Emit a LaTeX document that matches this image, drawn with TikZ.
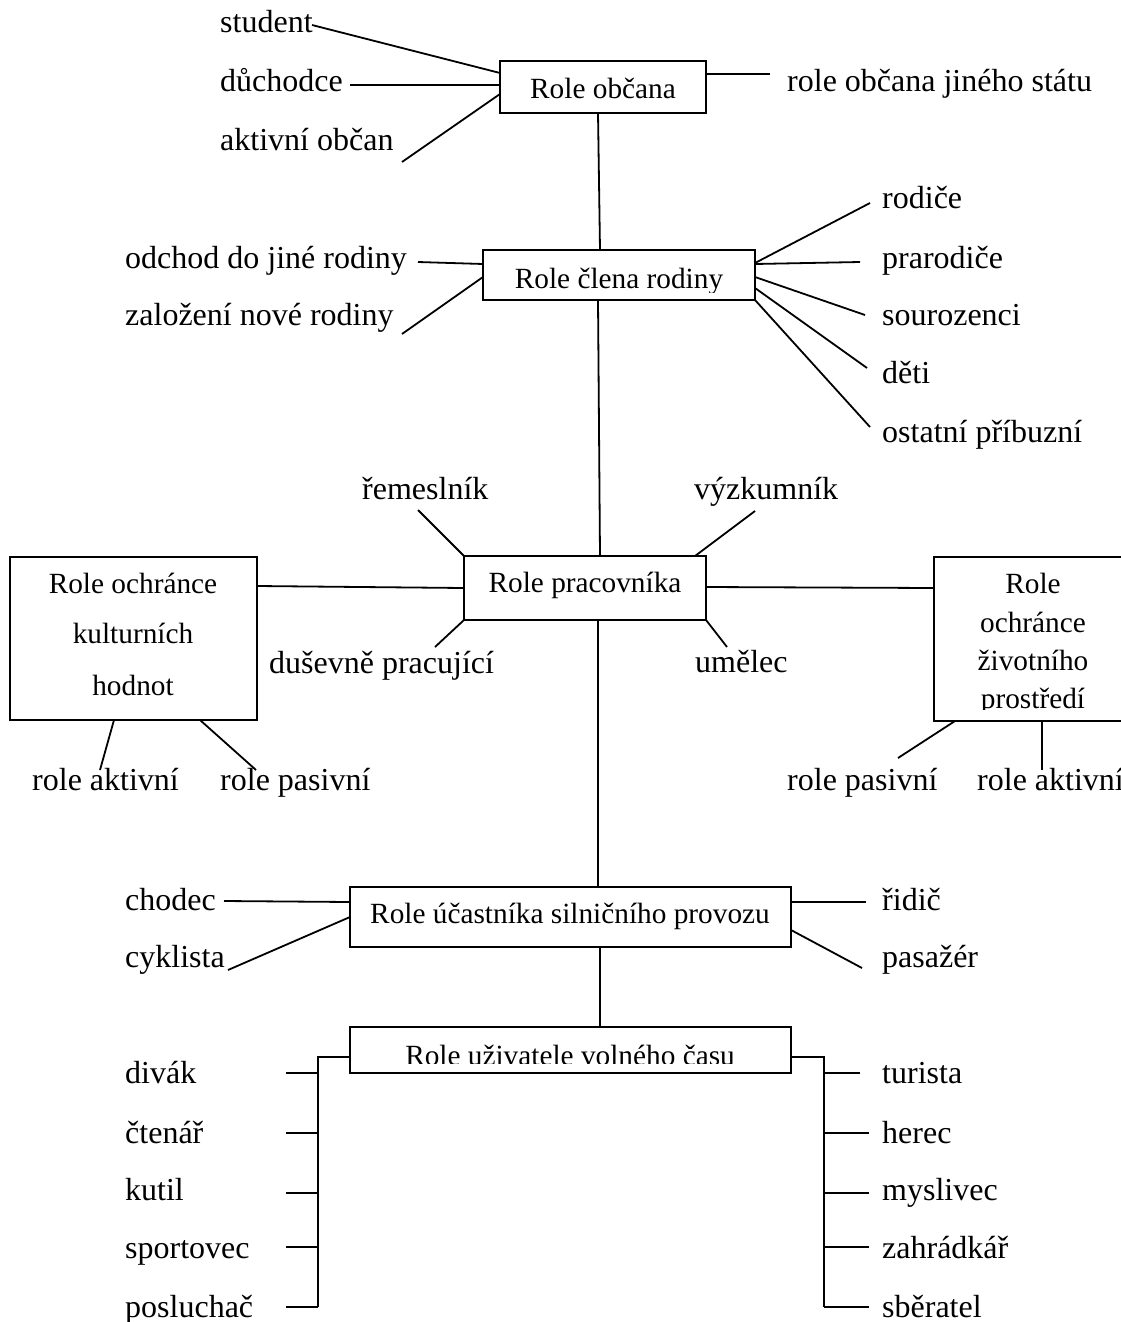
\documentclass[tikz,border=0pt]{standalone}
\usepackage{fontspec}
\setmainfont{Liberation Serif}
\begin{document}
\begin{tikzpicture}[x=1pt,y=-1pt,
  box/.style={draw,line width=1.3pt,rectangle,inner sep=0pt,outer sep=0pt},
  lbl/.style={anchor=base west,inner sep=0pt,font=\fontsize{32}{38}\selectfont},
  btxt/.style={anchor=base,inner sep=0pt,font=\fontsize{29.3}{35}\selectfont},
  conn/.style={line width=1.8pt}]
\fill[white] (0,0) rectangle (1121,1322);
\useasboundingbox (0,0) rectangle (1121,1322);

% ---------- boxes ----------
\node[box,minimum width=206pt,minimum height=52pt] (obc) at (603,87) {};
\node[box,minimum width=272pt,minimum height=50pt] (rod) at (619,275) {};
\node[box,minimum width=242pt,minimum height=64pt] (pra) at (585,588) {};
\node[box,minimum width=247pt,minimum height=163pt] (kul) at (133.5,638.5) {};
\node[box,minimum width=191pt,minimum height=164pt] (zp) at (1029.5,639) {};
\node[box,minimum width=441pt,minimum height=60pt] (sil) at (570.5,917) {};
\node[box,minimum width=441pt,minimum height=46pt] (vol) at (570.5,1050) {};

% ---------- box texts ----------
\node[btxt] (tobc) at (603,98) {Role občana};
\begin{scope}
  \clip (483,250) rectangle (755,292);
  \node[btxt] (trod) at (619,288) {Role člena rodiny};
\end{scope}
\node[btxt] (tpra) at (585,592) {Role pracovníka};
\node[btxt] (tkul1) at (133,593) {Role ochránce};
\node[btxt] (tkul2) at (133,643) {kulturních};
\node[btxt] (tkul3) at (133,695) {hodnot};
\node[btxt] (tzp1) at (1033,593) {Role};
\node[btxt] (tzp2) at (1033,632) {ochránce};
\node[btxt] (tzp3) at (1033,670) {životního};
\begin{scope}
  \clip (934,680) rectangle (1121,709);
  \node[btxt] (tzp4) at (1033,708) {prostředí};
\end{scope}
\node[btxt] (tsil) at (570,923) {Role účastníka silničního provozu};
\begin{scope}
  \clip (350,1027) rectangle (791,1063);
  \node[btxt] (tvol) at (570,1065) {Role uživatele volného času};
\end{scope}

% ---------- labels ----------
\node[lbl] (student) at (220,33) {student};
\node[lbl] (duch) at (220,92) {důchodce};
\node[lbl] (aktob) at (220,150) {aktivní občan};
\node[lbl] (jiny) at (787,92) {role občana jiného státu};
\node[lbl] (odchod) at (125,268) {odchod do jiné rodiny};
\node[lbl] (zaloz) at (125,325) {založení nové rodiny};
\node[lbl] (rodice) at (882,208) {rodiče};
\node[lbl] (prarod) at (882,268) {prarodiče};
\node[lbl] (souroz) at (882,325) {sourozenci};
\node[lbl] (deti) at (882,383) {děti};
\node[lbl] (ostat) at (882,442) {ostatní příbuzní};
\node[lbl] (remes) at (362,499) {řemeslník};
\node[lbl] (vyzk) at (694,499) {výzkumník};
\node[lbl] (dusev) at (269,673) {duševně pracující};
\node[lbl] (umel) at (695,672) {umělec};
\node[lbl] (kakt) at (32,790) {role aktivní};
\node[lbl] (kpas) at (220,790) {role pasivní};
\node[lbl] (zpas) at (787,790) {role pasivní};
\node[lbl] (zakt) at (977,790) {role aktivní};
\node[lbl] (chodec) at (125,910) {chodec};
\node[lbl] (cykl) at (125,967) {cyklista};
\node[lbl] (ridic) at (882,910) {řidič};
\node[lbl] (pasaz) at (882,967) {pasažér};
\node[lbl] (divak) at (125,1083) {divák};
\node[lbl] (ctenar) at (125,1143) {čtenář};
\node[lbl] (kutil) at (125,1200) {kutil};
\node[lbl] (sport) at (125,1258) {sportovec};
\node[lbl] (poslu) at (125,1317) {posluchač};
\node[lbl] (turis) at (882,1083) {turista};
\node[lbl] (herec) at (882,1143) {herec};
\node[lbl] (mysl) at (882,1200) {myslivec};
\node[lbl] (zahr) at (882,1258) {zahrádkář};
\node[lbl] (sber) at (882,1317) {sběratel};

% ---------- connector end points ----------
\coordinate (a1) at (312,25);   \coordinate (b1) at (500,73);
\coordinate (a2) at (350,85);   \coordinate (b2) at (500,85);
\coordinate (a3) at (402,162);  \coordinate (b3) at (500,94);
\coordinate (a4) at (770,74);   \coordinate (b4) at (706,74);
\coordinate (a5) at (598,113);  \coordinate (b5) at (600,250);
\coordinate (a6) at (418,262);  \coordinate (b6) at (483,264);
\coordinate (a7) at (402,334);  \coordinate (b7) at (483,277);
\coordinate (a8) at (870,203);  \coordinate (b8) at (755,263);
\coordinate (a9) at (860,262);  \coordinate (b9) at (755,264);
\coordinate (a10) at (865,315); \coordinate (b10) at (755,277);
\coordinate (a11) at (867,368); \coordinate (b11) at (755,288);
\coordinate (a12) at (870,427); \coordinate (b12) at (755,300);
\coordinate (a13) at (598,300); \coordinate (b13) at (600,556);
\coordinate (a14) at (418,510); \coordinate (b14) at (464,556);
\coordinate (a15) at (755,511); \coordinate (b15) at (695,556);
\coordinate (a16) at (435,647); \coordinate (b16) at (464,620);
\coordinate (a17) at (727,647); \coordinate (b17) at (706,620);
\coordinate (a18) at (257,586); \coordinate (b18) at (464,588);
\coordinate (a19) at (934,588); \coordinate (b19) at (706,587);
\coordinate (a20) at (100,770); \coordinate (b20) at (114,720);
\coordinate (a21) at (256,770); \coordinate (b21) at (200,720);
\coordinate (a22) at (898,758); \coordinate (b22) at (955,721);
\coordinate (a23) at (1042,770);\coordinate (b23) at (1042,721);
\coordinate (a24) at (598,620); \coordinate (b24) at (598,887);
\coordinate (a25) at (224,901); \coordinate (b25) at (350,902);
\coordinate (a26) at (228,970); \coordinate (b26) at (350,917);
\coordinate (a27) at (866,902); \coordinate (b27) at (791,902);
\coordinate (a28) at (862,968); \coordinate (b28) at (791,930);
\coordinate (a29) at (600,947); \coordinate (b29) at (600,1027);
\coordinate (vl) at (350,1057); \coordinate (vr) at (791,1057);
\coordinate (bl) at (318,1057); \coordinate (br) at (824,1057);

% ---------- connectors ----------
\foreach \i in {1,...,29} { \draw[conn] (a\i) -- (b\i); }

% left bracket
\draw[conn] (vl) -- (bl) -- (318,1307);
\foreach \y in {1073,1133,1193,1247,1307} { \draw[conn] (286,\y) -- (318,\y); }
% right bracket
\draw[conn] (vr) -- (br) -- (824,1307);
\draw[conn] (824,1073) -- (860,1073);
\foreach \y in {1133,1193,1247,1307} { \draw[conn] (824,\y) -- (869,\y); }
\end{tikzpicture}
\end{document}
